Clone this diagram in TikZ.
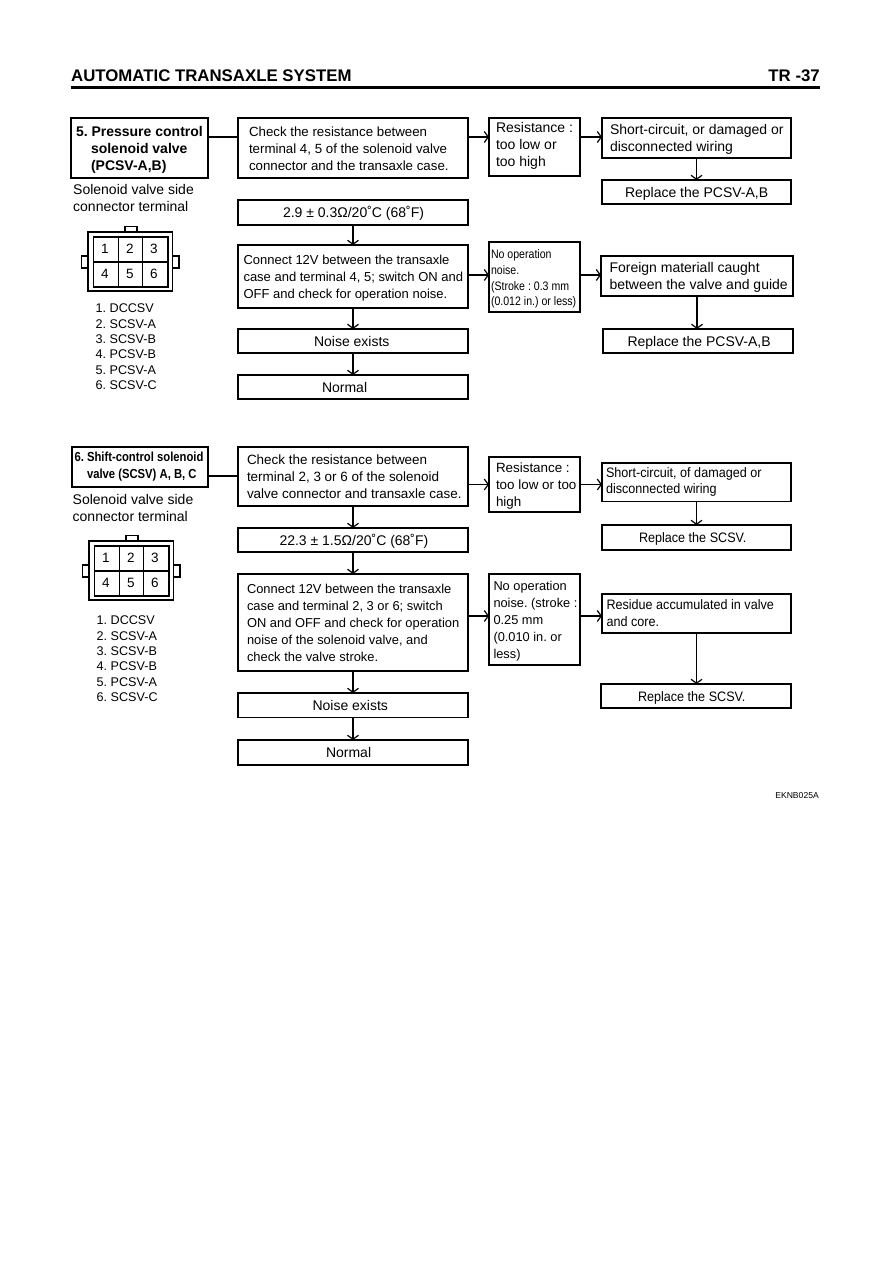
\documentclass[tikz,border=0pt]{standalone}
\usepackage{fontspec}
\setmainfont{Liberation Sans}
\newfontfamily\narrowfont[FakeStretch=0.86]{Liberation Sans}
\newfontfamily\slimfont[FakeStretch=0.92]{Liberation Sans}
\usetikzlibrary{arrows.meta}
\tikzset{
  x=1pt,y=-1pt,
  boxstyle/.style={draw=black,line width=1.2pt,inner sep=0pt,outer sep=0pt,fill=white},
  arr/.style={line width=1.2pt,-{Straight Barb[length=4pt,width=11pt,line width=1.2pt]}},
  plain/.style={line width=1.2pt},
  lbl/.style={anchor=base west,inner sep=0pt,font=\fontsize{14}{17}\selectfont},
  lst/.style={anchor=base west,inner sep=0pt,font=\fontsize{12.6}{15}\selectfont\frenchspacing},
  digit/.style={inner sep=0pt,font=\fontsize{13.5}{15}\selectfont},
  conn/.style={line width=1.2pt},
}
\newcommand{\reg}{\fontsize{14}{17}\selectfont}
\newcommand{\fs}[1]{\fontsize{#1}{17}\selectfont}
\newcommand{\ttl}{\fontsize{14}{17}\selectfont\bfseries}
\newcommand{\ttlb}{\fontsize{13.1}{16.7}\selectfont\narrowfont\bfseries}
\newcommand{\smalln}{\fontsize{12.3}{15.8}\selectfont\narrowfont}
\newcommand{\slim}{\fontsize{13.7}{16.7}\selectfont\slimfont}
% \bx[raise]{name}{x1}{y1}{x2}{y2}{pad}{font}{text}
\newcommand{\bx}[9][0]{%
  \pgfmathsetmacro\bw{#5-#3}\pgfmathsetmacro\bh{#6-#4}%
  \pgfmathsetmacro\bcx{(#3+#5)/2}\pgfmathsetmacro\bcy{(#4+#6)/2}%
  \pgfmathsetmacro\bp{#7-#3}\pgfmathsetmacro\br{#1-4.5}%
  \node[boxstyle,minimum width=\bw pt,minimum height=\bh pt,text width=\bw pt,align=flush left]
    (#2) at (\bcx,\bcy) {\hspace*{\bp pt}\raisebox{\br pt}[0pt][0pt]{\makebox[0pt][l]{\parbox{400pt}{#8\frenchspacing\raggedright\strut#9\strut\par}}}};%
}
% \plug{prefix}{dx}{dy}
\newcommand{\plug}[3]{%
  \begin{scope}[shift={(#2,#3)}]
    \draw[conn] (88,232) rectangle (172.5,291);
    \draw[conn] (93.5,237) rectangle (168,287);
    \draw[conn] (118.5,237) -- (118.5,287) (142.5,237) -- (142.5,287) (93.5,262) -- (168,262);
    \draw[conn] (125,232) -- (125,226.5) -- (137,226.5) -- (137,232);
    \draw[conn] (88,256) -- (81.5,256) -- (81.5,268) -- (88,268);
    \draw[conn] (172.5,256) -- (179,256) -- (179,268) -- (172.5,268);
    \node[digit] (#1d1) at (105,249) {1};
    \node[digit] (#1d2) at (130,249) {2};
    \node[digit] (#1d3) at (154,249) {3};
    \node[digit] (#1d4) at (105,274) {4};
    \node[digit] (#1d5) at (130,274) {5};
    \node[digit] (#1d6) at (154,274) {6};
  \end{scope}
}
\begin{document}
\begin{tikzpicture}
\useasboundingbox (0,0) rectangle (893,1263);
\fill[white] (0,0) rectangle (893,1263);
% header
\node[anchor=base west,inner sep=0pt,font=\fontsize{16.8}{18}\selectfont\bfseries] (hdl) at (71,81.5) {AUTOMATIC TRANSAXLE SYSTEM};
\node[anchor=base east,inner sep=0pt,font=\fontsize{16.8}{18}\selectfont\bfseries] (hdr) at (820,81.5) {TR -37};
\fill[black] (71,86) rectangle (820,89);
% ---------- section 5
\bx{t5}{71}{118}{208}{178}{76}{\ttl}{5. Pressure control\\\hspace*{15pt}solenoid valve\\\hspace*{15pt}(PCSV-A,B)}
\bx{c5}{238}{118}{468}{178}{249}{\fs{13.3}}{Check the resistance between\\terminal 4, 5 of the solenoid valve\\connector and the transaxle case.}
\bx{v5}{238}{200}{468}{225}{283}{\reg}{2.9 ± 0.3Ω/20˚C (68˚F)}
\bx{o5}{238}{245}{468}{308}{243.5}{\fs{13}}{Connect 12V between the transaxle\\case and terminal 4, 5; switch ON and\\OFF and check for operation noise.}
\bx{n5}{238}{329}{468}{353}{314}{\reg}{Noise exists}
\bx{m5}{238}{375}{468}{399}{322}{\reg}{Normal}
\bx[2.5]{r5}{489}{118}{580}{176}{496}{\reg}{Resistance :\\too low or\\too high}
\bx{s5}{602}{118}{791}{158}{610}{\reg}{Short-circuit, or damaged or\\disconnected wiring}
\bx{p5}{602}{180}{791}{204}{625}{\reg}{Replace the PCSV-A,B}
\bx{q5}{489}{242}{580}{312}{491}{\smalln}{No operation\\noise.\\(Stroke : 0.3 mm\\(0.012 in.) or less)}
\bx{f5}{601}{256}{793}{296}{609.5}{\reg}{Foreign materiall caught\\between the valve and guide}
\bx{g5}{603}{329}{793}{353}{627.5}{\reg}{Replace the PCSV-A,B}
\node[lbl] (a5) at (73,194.5) {Solenoid valve side};
\node[lbl] (b5) at (73,211.5) {connector terminal};
\plug{x}{0}{0}
\node[lst] (l51) at (95.5,312.5) {1. DCCSV};
\node[lst] (l52) at (95.5,328) {2. SCSV-A};
\node[lst] (l53) at (95.5,343.4) {3. SCSV-B};
\node[lst] (l54) at (95.5,358.9) {4. PCSV-B};
\node[lst] (l55) at (95.5,374.4) {5. PCSV-A};
\node[lst] (l56) at (95.5,389.8) {6. SCSV-C};
\coordinate (y1) at (0,137);
\coordinate (y2) at (0,275);
\draw[plain] (t5.east |- y1) -- (c5.west |- y1);
\draw[arr] (c5.east |- y1) -- (r5.west |- y1);
\draw[arr] (r5.east |- y1) -- (s5.west |- y1);
\draw[arr] (s5.south) -- (s5.south |- p5.north);
\draw[arr] (v5.south) -- (o5.north);
\draw[arr] (o5.south) -- (n5.north);
\draw[arr] (n5.south) -- (m5.north);
\draw[arr] (o5.east |- y2) -- (q5.west |- y2);
\draw[arr] (q5.east |- y2) -- (f5.west |- y2);
\draw[arr] (f5.south) -- (f5.south |- g5.north);
% ---------- section 6
\bx[2]{t6}{72}{447}{208}{487}{74.5}{\ttlb}{6. Shift-control solenoid\\\hspace*{12.5pt}valve (SCSV) A, B, C}
\bx{c6}{238}{447}{468}{506}{247}{\fs{13.45}}{Check the resistance between\\terminal 2, 3 or 6 of the solenoid\\valve connector and transaxle case.}
\bx{v6}{238}{528}{468}{552}{279.5}{\reg}{22.3 ± 1.5Ω/20˚C (68˚F)}
\bx[0.8]{o6}{238}{574}{468}{671}{247}{\fs{12.9}}{Connect 12V between the transaxle\\case and terminal 2, 3 or 6; switch\\ON and OFF and check for operation\\noise of the solenoid valve, and\\check the valve stroke.}
\bx{n6}{238}{693}{468}{717.5}{312.5}{\reg}{Noise exists}
\bx{m6}{238}{740}{468}{765}{326}{\reg}{Normal}
\bx{r6}{489}{457}{580}{512}{496}{\fs{13.4}}{Resistance :\\too low or too\\high}
\bx[2]{s6}{602}{463}{791}{501.5}{606}{\slim}{Short-circuit, of damaged or\\disconnected wiring}
\bx{p6}{602}{525}{791}{550}{639}{\slim}{Replace the SCSV.}
\bx{q6}{489}{574}{580}{665}{493.5}{\fs{12.8}}{No operation\\noise. (stroke :\\0.25 mm\\(0.010 in. or\\less)}
\bx[0.5]{f6}{602}{594}{791}{633}{606.5}{\slim}{Residue accumulated in valve\\and core.}
\bx{g6}{601}{684}{791}{708}{638}{\slim}{Replace the SCSV.}
\node[lbl] (a6) at (72.5,504.5) {Solenoid valve side};
\node[lbl] (b6) at (72.5,521.5) {connector terminal};
\plug{z}{1}{309}
\node[lst] (l61) at (96.5,624.5) {1. DCCSV};
\node[lst] (l62) at (96.5,640) {2. SCSV-A};
\node[lst] (l63) at (96.5,655.3) {3. SCSV-B};
\node[lst] (l64) at (96.5,670.7) {4. PCSV-B};
\node[lst] (l65) at (96.5,686.1) {5. PCSV-A};
\node[lst] (l66) at (96.5,701.5) {6. SCSV-C};
\coordinate (y3) at (0,476);
\coordinate (y4) at (0,484.5);
\coordinate (y5) at (0,616);
\draw[plain] (t6.east |- y3) -- (c6.west |- y3);
\draw[arr] (c6.east |- y4) -- (r6.west |- y4);
\draw[arr] (r6.east |- y4) -- (s6.west |- y4);
\draw[arr] (s6.south) -- (s6.south |- p6.north);
\draw[arr] (c6.south) -- (v6.north);
\draw[arr] (v6.south) -- (o6.north);
\draw[arr] (o6.south) -- (n6.north);
\draw[arr] (n6.south) -- (m6.north);
\draw[arr] (o6.east |- y5) -- (q6.west |- y5);
\draw[arr] (q6.east |- y5) -- (f6.west |- y5);
\draw[arr] (f6.south) -- (f6.south |- g6.north);
\node[anchor=base east,inner sep=0pt,font=\fontsize{8.6}{10}\selectfont] (code) at (819,798.5) {EKNB025A};
\end{tikzpicture}
\end{document}
